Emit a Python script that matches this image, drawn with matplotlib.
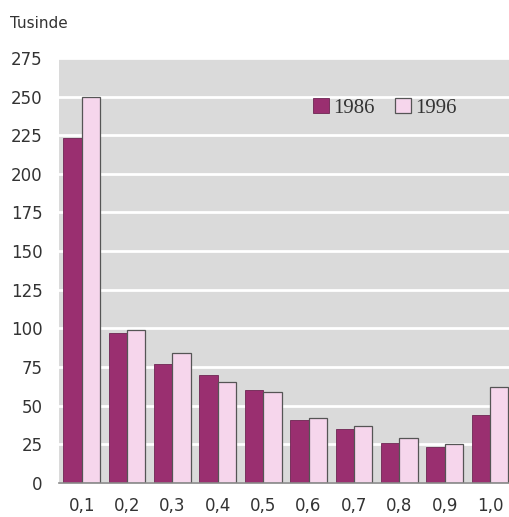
import matplotlib.pyplot as plt
import numpy as np

# Values (thousands)
categories = ['0,1', '0,2', '0,3', '0,4', '0,5', '0,6', '0,7', '0,8', '0,9', '1,0']
values_1986 = [223, 97, 77, 70, 60, 41, 35, 26, 23, 44]
values_1996 = [250, 99, 84, 65, 59, 42, 37, 29, 25, 62]
y_ticks = [0, 25, 50, 75, 100, 125, 150, 175, 200, 225, 250, 275]

fig = plt.figure(figsize=(5.09, 5.17), dpi=100)
ax = fig.add_axes([0.116, 0.066, 0.884, 0.822])

x = np.arange(len(categories))
w = 0.405

# Gray background with white horizontal grid lines
ax.set_facecolor('#dadada')
ax.grid(axis='y', color='white', linewidth=2)
ax.set_axisbelow(True)

ax.bar(x - w / 2, values_1986, width=w, color='#9a2f70',
       edgecolor='#6e2552', linewidth=0.6, label='1986')
ax.bar(x + w / 2, values_1996, width=w, color='#f6d6ec',
       edgecolor='#555555', linewidth=0.9, label='1996')

ax.set_xlim(-0.5, 9.42)
ax.set_ylim(0, 275)
ax.set_yticks(y_ticks)
ax.set_xticks(x)
ax.set_xticklabels(categories)

ax.tick_params(axis='both', length=0, labelsize=12, labelcolor='#333333')
ax.tick_params(axis='y', pad=12)
ax.tick_params(axis='x', pad=10)

for side in ['top', 'right', 'left']:
    ax.spines[side].set_visible(False)
ax.spines['bottom'].set_color('#888888')
ax.spines['bottom'].set_linewidth(1.2)

fig.text(0.02, 0.955, 'Tusinde', fontsize=11, color='#333333', va='center')

leg = ax.legend(loc='center left', bbox_to_anchor=(0.523, 0.882), ncol=2,
                frameon=False, handlelength=0.75, handleheight=0.75,
                handletextpad=0.2, columnspacing=1.0,
                prop={'family': 'Liberation Serif', 'size': 15})
for t in leg.get_texts():
    t.set_color('#333333')

fig.savefig('out.png', dpi=100)
